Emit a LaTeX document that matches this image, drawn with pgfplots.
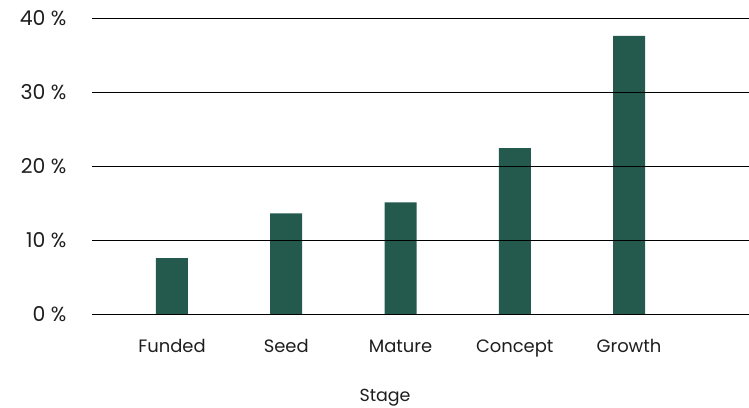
\documentclass[border=0pt]{standalone}
\usepackage{pgfplots}
\pgfplotsset{compat=1.18}
\usepackage{fontspec}
\setmainfont{Poppins}
\definecolor{bargreen}{HTML}{245A4E}
\definecolor{txt}{HTML}{1E1E1E}
\begin{document}
\begin{tikzpicture}
\useasboundingbox (-92bp,-94bp) rectangle (657bp,314bp);
\begin{axis}[
at={(0,0)}, anchor=south west,
scale only axis,
width=657bp, height=296bp,
ybar, bar width=32bp,
xmin=-0.70, xmax=5.05,
ymin=0, ymax=40,
ytick={0,10,20,30,40},
xtick=data,
xticklabels={Funded, Seed, Mature, Concept, Growth},
/pgf/number format/assume math mode=true,
yticklabel={\pgfmathprintnumber{\tick} \%},
yticklabel style={font=\fontsize{20.5}{24}\selectfont, text=txt, xshift=-22bp},
xticklabel style={font=\fontsize{18}{21}\selectfont, text=txt, text height=13bp, text depth=4bp, yshift=-18bp},
ymajorgrids,
major grid style={black, line width=1bp},
axis line style={draw=none},
tick style={draw=none},
axis on top,
xlabel={Stage},
xlabel style={at={(rel axis cs:0.446,0)}, anchor=center, yshift=-84bp, font=\fontsize{17.5}{21}\selectfont, text=txt},
]
\addplot[fill=bargreen, draw=none] coordinates {
(0, 7.55)
(1, 13.6)
(2, 15.1)
(3, 22.4)
(4, 37.6)
};
\end{axis}
\end{tikzpicture}
\end{document}
